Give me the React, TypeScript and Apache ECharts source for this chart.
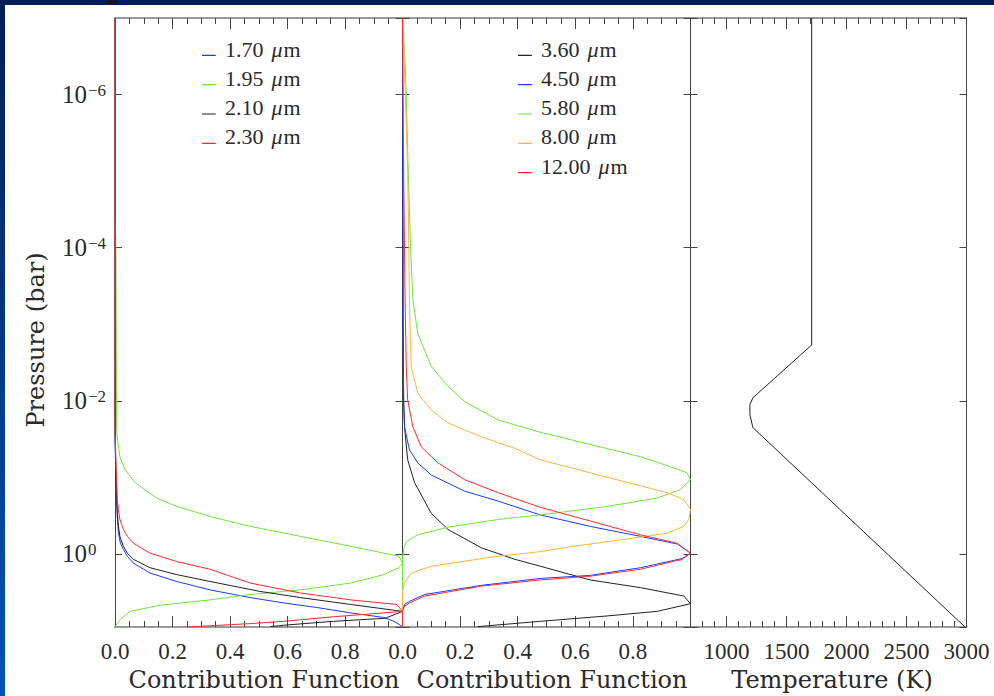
import { useEffect, useRef } from "react";
import * as echarts from "echarts";

type Pt = [number, number];

// Pressure range of the model atmosphere, bar (y axis runs in log10 P, low pressure on top)
const pressureTop = 1e-7;
const pressureBottom = 9;

// Near-IR contribution functions: [normalised contribution, log10 P (bar)]
const cf170: Pt[] = [
  [0, -7], [0, -1.5], [0.0035, -0.93], [0.006, -0.71], [0.008, -0.49], [0.012, -0.27],
  [0.019, -0.14], [0.029, -0.06], [0.043, 0.03], [0.064, 0.12], [0.1, 0.2], [0.122, 0.25],
  [0.215, 0.36], [0.331, 0.47], [0.47, 0.57], [0.587, 0.64], [0.703, 0.7], [0.82, 0.77],
  [0.935, 0.83], [0.97, 0.88], [1.0, 0.95],
];
const cf195: Pt[] = [
  [0, -7], [0, -4.5], [0.003, -4], [0.004, -3], [0.005, -2], [0.006, -1.58], [0.017, -1.27],
  [0.035, -1.1], [0.07, -0.93], [0.145, -0.73], [0.215, -0.62], [0.33, -0.49], [0.47, -0.36],
  [0.645, -0.23], [0.82, -0.1], [0.91, -0.03], [0.987, 0.03], [1.0, 0.12], [0.987, 0.18],
  [0.935, 0.27], [0.82, 0.38], [0.645, 0.47], [0.47, 0.53], [0.33, 0.6], [0.157, 0.67],
  [0.052, 0.75], [0.017, 0.86], [0, 0.95],
];
const cf210: Pt[] = [
  [0, -7], [0, -1.6], [0.0035, -1.06], [0.006, -0.71], [0.008, -0.53], [0.012, -0.36],
  [0.017, -0.23], [0.029, -0.1], [0.043, -0.01], [0.064, 0.07], [0.122, 0.18], [0.215, 0.27],
  [0.331, 0.36], [0.505, 0.49], [0.645, 0.57], [0.82, 0.66], [0.98, 0.74], [1.0, 0.75],
  [0.94, 0.84], [0.76, 0.88], [0.59, 0.93], [0.54, 0.95],
];
const cf230: Pt[] = [
  [0, -7], [0, -1.7], [0.0035, -1.14], [0.006, -0.93], [0.008, -0.71], [0.012, -0.58],
  [0.017, -0.45], [0.029, -0.32], [0.043, -0.23], [0.064, -0.14], [0.09, -0.08], [0.122, -0.01],
  [0.215, 0.1], [0.331, 0.2], [0.47, 0.38], [0.645, 0.51], [0.82, 0.6], [0.98, 0.66],
  [1.0, 0.75], [0.935, 0.77], [0.76, 0.82], [0.587, 0.88], [0.47, 0.91], [0.25, 0.955],
];

// Mid-IR contribution functions
const cf360: Pt[] = [
  [0, -7], [0.002, -3], [0.004, -2], [0.007, -1.66], [0.018, -1.23], [0.042, -0.93],
  [0.1, -0.53], [0.158, -0.32], [0.274, -0.08], [0.39, 0.07], [0.478, 0.16], [0.652, 0.34],
  [0.826, 0.44], [0.977, 0.55], [1.0, 0.65], [0.884, 0.75], [0.71, 0.81], [0.478, 0.88],
  [0.26, 0.95],
];
const cf450: Pt[] = [
  [0, -7], [0.002, -3], [0.004, -2], [0.007, -1.66], [0.024, -1.36], [0.053, -1.19],
  [0.1, -1.03], [0.216, -0.82], [0.332, -0.69], [0.478, -0.51], [0.652, -0.36], [0.826, -0.23],
  [0.954, -0.13], [1.0, -0.01], [0.971, 0.06], [0.826, 0.18], [0.652, 0.28], [0.478, 0.32],
  [0.274, 0.41], [0.077, 0.53], [0.024, 0.62], [0.007, 0.66], [0, 0.75], [0, 0.95],
];
const cf580: Pt[] = [
  [0, -7], [0.008, -6.5], [0.013, -6], [0.02, -5], [0.028, -4], [0.036, -3.32], [0.053, -2.88],
  [0.1, -2.45], [0.158, -2.19], [0.216, -1.99], [0.332, -1.75], [0.478, -1.59], [0.652, -1.43],
  [0.826, -1.27], [0.93, -1.14], [0.988, -1.06], [1.0, -0.97], [0.965, -0.84], [0.884, -0.73],
  [0.71, -0.62], [0.478, -0.51], [0.332, -0.45], [0.158, -0.35], [0.053, -0.25], [0.013, -0.16],
  [0.005, -0.08], [0, 0.05], [0, 0.95],
];
const cf800: Pt[] = [
  [0, -7], [0.01, -6], [0.018, -5], [0.022, -4], [0.024, -3.32], [0.027, -2.88], [0.03, -2.45],
  [0.053, -2.1], [0.1, -1.88], [0.158, -1.71], [0.274, -1.53], [0.39, -1.38], [0.478, -1.23],
  [0.652, -1.06], [0.826, -0.89], [0.919, -0.8], [0.977, -0.71], [1.0, -0.58], [0.994, -0.45],
  [0.977, -0.36], [0.919, -0.27], [0.768, -0.19], [0.594, -0.1], [0.478, -0.03], [0.332, 0.03],
  [0.1, 0.16], [0.03, 0.25], [0.007, 0.38], [0, 0.5], [0, 0.95],
];
const cf1200: Pt[] = [
  [0, -7], [0.004, -5], [0.009, -3.32], [0.013, -2.45], [0.018, -2.01], [0.036, -1.66],
  [0.065, -1.4], [0.123, -1.19], [0.216, -0.97], [0.332, -0.8], [0.478, -0.61], [0.652, -0.43],
  [0.826, -0.25], [0.954, -0.14], [1.0, -0.01], [0.971, 0.07], [0.826, 0.2], [0.652, 0.29],
  [0.478, 0.34], [0.274, 0.42], [0.077, 0.55], [0.024, 0.64], [0.007, 0.68], [0, 0.75], [0, 0.95],
];

// Temperature-pressure profile: [T (K), log10 P (bar)]
const tpProfile: Pt[] = [
  [1710, -7], [1710, -2.73], [1220, -2.04], [1195, -1.95], [1195, -1.82], [1220, -1.65], [2985, 0.95],
];

const nirBands = ["1.70", "1.95", "2.10", "2.30"];
const midBands = ["3.60", "4.50", "5.80", "8.00", "12.00"];

const BLUE = "#1a3cff";
const GREEN = "#6ee43a";
const BLACK = "#222222";
const RED = "#ff2a2a";
const ORANGE = "#ffb23a";

const nirSeries = [
  { name: "1.70", data: cf170, color: BLUE },
  { name: "1.95", data: cf195, color: GREEN },
  { name: "2.10", data: cf210, color: BLACK },
  { name: "2.30", data: cf230, color: RED },
];
const midSeries = [
  { name: "3.60", data: cf360, color: BLACK },
  { name: "4.50", data: cf450, color: BLUE },
  { name: "5.80", data: cf580, color: GREEN },
  { name: "8.00", data: cf800, color: ORANGE },
  { name: "12.00", data: cf1200, color: RED },
];

const SERIF = '"Liberation Serif", "Times New Roman", serif';
const WIDE_SERIF = '"DejaVu Serif", serif';
const TEXT = "#2a2a2a";
const FRAME_V = "#444444";
const FRAME_H = "#9a9a9a";

// grid boxes in pixels: [left, width]
const panels: [number, number][] = [
  [115, 287.5],
  [402.5, 288],
  [690.5, 276],
];
const GRID_TOP = 18;
const GRID_HEIGHT = 609;

const tickLine = { color: FRAME_V, width: 1 };

function bottomAxis(grid: number, min: number, max: number, extra: any) {
  return {
    type: "value",
    gridIndex: grid,
    position: "bottom",
    min,
    max,
    ...extra,
    axisLine: { show: true, onZero: false, lineStyle: { color: FRAME_H, width: 2 } },
    axisTick: { show: true, inside: true, length: 11, lineStyle: tickLine },
    minorTick: { show: true, splitNumber: extra.minorSplit, length: 6, lineStyle: tickLine },
    splitLine: { show: false },
    minorSplitLine: { show: false },
  };
}

function topAxis(grid: number, min: number, max: number, extra: any) {
  const a: any = bottomAxis(grid, min, max, extra);
  a.position = "top";
  a.axisLabel = { show: false };
  return a;
}

const cfLabel = (hideMax: boolean) => ({
  show: true,
  margin: 13,
  fontFamily: SERIF,
  fontSize: 23,
  color: TEXT,
  showMaxLabel: !hideMax,
  formatter: (v: number) => v.toFixed(1),
});

const cfExtra = { interval: 0.2, minorSplit: 4 };
const tExtra = { splitNumber: 5, minorSplit: 5 };

const xAxes = [
  { ...bottomAxis(0, 0, 1, cfExtra), axisLabel: cfLabel(true) },
  { ...bottomAxis(1, 0, 1, cfExtra), axisLabel: cfLabel(true) },
  {
    ...bottomAxis(2, 700, 3000, tExtra),
    axisLabel: {
      show: true,
      margin: 13,
      fontFamily: SERIF,
      fontSize: 23,
      color: TEXT,
      showMinLabel: false,
      formatter: (v: number) => String(v),
    },
  },
  topAxis(0, 0, 1, cfExtra),
  topAxis(1, 0, 1, cfExtra),
  topAxis(2, 700, 3000, tExtra),
];

function pressureAxis(grid: number, side: "left" | "right", labelled: boolean) {
  return {
    type: "value",
    gridIndex: grid,
    position: side,
    inverse: true,
    min: Math.log10(pressureTop),
    max: Math.log10(pressureBottom),
    splitNumber: 4,
    axisLine: { show: true, onZero: false, lineStyle: { color: FRAME_V, width: 1 } },
    axisTick: { show: true, inside: true, length: 7, lineStyle: tickLine },
    splitLine: { show: false },
    axisLabel: labelled
      ? {
          show: true,
          align: "left",
          margin: 53,
          showMinLabel: false,
          showMaxLabel: false,
          formatter: (v: number) => {
            const e = Math.round(v);
            if (Math.abs(v - e) > 1e-6 || e % 2 !== 0) return "";
            return `{b|10}{e|${e < 0 ? "\u2212" : ""}${Math.abs(e)}}`;
          },
          rich: {
            b: { fontFamily: SERIF, fontSize: 25, lineHeight: 25, color: TEXT },
            e: { fontFamily: SERIF, fontSize: 17, lineHeight: 12, color: TEXT, verticalAlign: "top", padding: [0, 0, 0, 1] },
          },
        }
      : { show: false },
  };
}

const yAxes = [
  pressureAxis(0, "left", true),
  pressureAxis(1, "left", false),
  pressureAxis(2, "left", false),
  pressureAxis(0, "right", false),
  pressureAxis(1, "right", false),
  pressureAxis(2, "right", false),
];

function lineSeries(name: string, data: Pt[], color: string, grid: number) {
  return {
    type: "line",
    name,
    xAxisIndex: grid,
    yAxisIndex: grid,
    data,
    color,
    showSymbol: false,
    symbol: "none",
    silent: true,
    clip: true,
    z: 3,
    lineStyle: { width: 1, color },
    itemStyle: { color },
  };
}

// thin line sitting at the bottom of the icon box (a dot-sized corner keeps the box full height)
const BASELINE_ICON = "path://M0,0h0.01v0.01h-0.01zM0,13h14v1.2h-14z";

const legendRich = {
  n: { fontFamily: SERIF, fontSize: 22, lineHeight: 22, color: TEXT, padding: [0, 0, 0, 4] },
  mu: { fontFamily: SERIF, fontSize: 22, lineHeight: 22, color: TEXT, fontStyle: "italic", padding: [0, 0, 0, 8] },
  m: { fontFamily: SERIF, fontSize: 22, lineHeight: 22, color: TEXT, padding: [0, 0, 0, 1] },
};

function bandLegend(names: string[], left: number) {
  return {
    data: names,
    orient: "vertical",
    left,
    top: 38,
    padding: 0,
    itemGap: 7.3,
    itemWidth: 14,
    itemHeight: 14,
    icon: BASELINE_ICON,
    itemStyle: { borderWidth: 0 },
    selectedMode: false,
    formatter: (name: string) => `{n|${name}}{mu|\u03bc}{m|m}`,
    textStyle: { rich: legendRich },
  };
}

function nameText(text: string, x: number, y: number, rotation = 0) {
  return {
    type: "text",
    x,
    y,
    rotation,
    silent: true,
    style: {
      text,
      fontFamily: WIDE_SERIF,
      fontSize: 24,
      fill: TEXT,
      align: "center",
      verticalAlign: "middle",
    },
  };
}

const option: any = {
  animation: false,
  grid: panels.map(([left, width]) => ({ left, width, top: GRID_TOP, height: GRID_HEIGHT })),
  xAxis: xAxes,
  yAxis: yAxes,
  legend: [bandLegend(nirBands, 202), bandLegend(midBands, 518)],
  series: [
    ...nirSeries.map((s) => lineSeries(s.name, s.data, s.color, 0)),
    ...midSeries.map((s) => lineSeries(s.name, s.data, s.color, 1)),
    lineSeries("Temperature", tpProfile, "#222222", 2),
  ],
  graphic: [
    {
      type: "rect",
      z: -10,
      silent: true,
      shape: { x: 0, y: 0, width: 994, height: 696 },
      style: {
        fill: new echarts.graphic.LinearGradient(0, 0, 0, 1, [
          { offset: 0, color: "#001d57" },
          { offset: 1, color: "#0054b8" },
        ]),
      },
    },
    { type: "rect", z: -9, silent: true, shape: { x: 5, y: 5, width: 989, height: 691 }, style: { fill: "#ffffff" } },
    { type: "rect", z: -8, silent: true, shape: { x: 107, y: 0, width: 11, height: 4 }, style: { fill: "#151515" } },
    nameText("Contribution Function", 264, 680),
    nameText("Contribution Function", 552, 680),
    nameText("Temperature (K)", 832, 680),
    nameText("Pressure (bar)", 36, 340, Math.PI / 2),
  ],
};

export default function App() {
  const ref = useRef<HTMLDivElement>(null);
  useEffect(() => {
    if (!ref.current) return;
    const chart = echarts.init(ref.current, undefined, { renderer: "svg" });
    chart.setOption(option);
    return () => chart.dispose();
  }, []);
  return (
    <div
      ref={ref}
      style={{ position: "absolute", left: 0, top: 0, width: 994, height: 696 }}
    />
  );
}
